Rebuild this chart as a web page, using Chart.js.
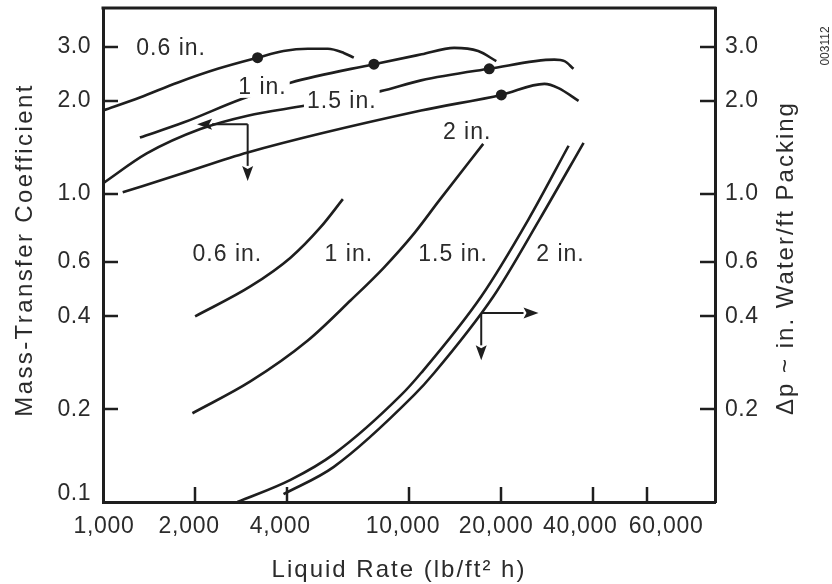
<!DOCTYPE html>
<html>
<head>
<meta charset="utf-8">
<script src="https://cdn.jsdelivr.net/npm/chart.js@4.4.1/dist/chart.umd.min.js"></script>
<style>
html,body{margin:0;padding:0;background:#ffffff;}
#wrap{width:832px;height:584px;position:relative;}
canvas{display:block;}
</style>
</head>
<body>
<div id="wrap"><canvas id="c" width="832" height="584"></canvas></div>
<script>
// ---------- tick values and labels ----------
const xTickValues = [1000, 2000, 4000, 10000, 20000, 40000, 60000];
const xTickLabels = ['1,000', '2,000', '4,000', '10,000', '20,000', '40,000', '60,000'];
const leftTickValues = [0.1, 0.2, 0.4, 0.6, 1.0, 2.0, 3.0];
const leftTickLabels = ['0.1', '0.2', '0.4', '0.6', '1.0', '2.0', '3.0'];
const rightTickValues = [0.2, 0.4, 0.6, 1.0, 2.0, 3.0];
const rightTickLabels = ['0.2', '0.4', '0.6', '1.0', '2.0', '3.0'];

// ---------- mass-transfer coefficient curves (left axis) ----------
const kRate06 = [1000, 1320, 1750, 2370, 3200, 3890, 4670, 5430, 6120, 6600];
const kCoef06 = [1.86, 2.05, 2.29, 2.54, 2.76, 2.90, 2.95, 2.95, 2.86, 2.76];
const kRate10 = [1320, 1830, 2810, 4100, 7680, 11000, 14050, 16830, 19290];
const kCoef10 = [1.52, 1.70, 2.02, 2.29, 2.63, 2.83, 2.97, 2.90, 2.69];
const kRate15 = [1000, 1390, 2080, 2970, 4590, 8090, 10950, 18290, 29870, 32220, 34480];
const kCoef15 = [1.08, 1.35, 1.62, 1.79, 1.93, 2.15, 2.33, 2.54, 2.72, 2.69, 2.54];
const kRate20 = [1160, 1800, 2970, 10950, 20030, 27710, 30800, 35820];
const kCoef20 = [1.01, 1.16, 1.36, 1.86, 2.09, 2.27, 2.20, 2.00];
// marked points on the coefficient curves
const dotRate = [3200, 7680, 18290, 20030];
const dotCoef = [2.76, 2.63, 2.54, 2.09];

// ---------- pressure-drop curves (right axis) ----------
const pRate06 = [2000, 3030, 4100, 5150, 6080];
const pDrop06 = [0.40, 0.50, 0.62, 0.78, 0.96];
const pRate10 = [1960, 3030, 4670, 6450, 8280, 10380, 12540, 17480];
const pDrop10 = [0.194, 0.246, 0.334, 0.451, 0.576, 0.742, 0.949, 1.45];
const pRate15 = [2750, 4100, 5680, 9415, 10950, 17220, 24550, 33230];
const pDrop15 = [0.100, 0.118, 0.143, 0.222, 0.262, 0.464, 0.824, 1.43];
const pRate20 = [3890, 5680, 10380, 12080, 18860, 26690, 37200];
const pDrop20 = [0.106, 0.130, 0.222, 0.262, 0.464, 0.824, 1.462];

// ---------- annotations (anchored in data units) ----------
const curveLabels = [
  {text: '0.6 in.', x: 1670, y: 2.97, axis: 'y', knock: false},
  {text: '1 in.', x: 3320, y: 2.22, axis: 'y', knock: true},
  {text: '1.5 in.', x: 6030, y: 2.00, axis: 'y', knock: true},
  {text: '2 in.', x: 15490, y: 1.59, axis: 'y', knock: false},
  {text: '0.6 in.', x: 2550, y: 0.64, axis: 'y2', knock: false},
  {text: '1 in.', x: 6360, y: 0.64, axis: 'y2', knock: false},
  {text: '1.5 in.', x: 13940, y: 0.64, axis: 'y2', knock: false},
  {text: '2 in.', x: 31260, y: 0.64, axis: 'y2', knock: false}
];
const axisArrows = [
  {axis: 'y', from: [2970, 1.68], to: [[2030, 1.68], [2970, 1.10]]},
  {axis: 'y2', from: [17220, 0.41], to: [[26500, 0.41], [17220, 0.288]]}
];

const INK = '#1e1e1e';
const TEXT = '#2b2b2b';
const FAMILY = '"Liberation Sans", Arial, Helvetica, sans-serif';

function pts(xs, ys) { return xs.map((x, i) => ({x: x, y: ys[i]})); }

// log scale with letter-spaced labels, per-label nudges and upward-reading titles
class SpacedLogScale extends Chart.LogarithmicScale {
  drawTitle() {
    const t = this.options.title;
    if (!t || !t.display) return;
    const ctx = this.ctx;
    const area = this.chart.chartArea;
    const f = t.font || {};
    ctx.save();
    ctx.font = (f.weight ? f.weight + ' ' : '') + (f.size || 24) + 'px ' + (f.family || FAMILY);
    ctx.fillStyle = t.color;
    ctx.letterSpacing = this.options.titleLetterSpacing || '0px';
    ctx.textAlign = 'center';
    ctx.textBaseline = 'alphabetic';
    const shift = this.options.titleShift || 0;
    const base = this.options.titleBaseline;
    if (this.isHorizontal()) {
      ctx.fillText(t.text, (area.left + area.right) / 2 + shift, base);
    } else {
      ctx.translate(base, (area.top + area.bottom) / 2 + shift);
      ctx.rotate(-Math.PI / 2);
      ctx.fillText(t.text, 0, 0);
    }
    ctx.restore();
  }
  _computeLabelItems(chartArea) {
    const items = super._computeLabelItems(chartArea);
    const shifts = this.options.labelShifts;
    if (shifts) {
      items.forEach((it, i) => {
        const s = shifts[i] || 0;
        if (!s || !it.options || !it.options.translation) return;
        const tr = it.options.translation;
        it.options.translation = this.isHorizontal() ? [tr[0] + s, tr[1]] : [tr[0], tr[1] + s];
      });
    }
    return items;
  }
  drawLabels(chartArea) {
    const ctx = this.ctx;
    ctx.save();
    ctx.letterSpacing = this.options.labelLetterSpacing || '0px';
    super.drawLabels(chartArea);
    ctx.restore();
  }
}
SpacedLogScale.id = 'spacedLog';
SpacedLogScale.defaults = Chart.LogarithmicScale.defaults;
Chart.register(SpacedLogScale);

const decorPlugin = {
  id: 'decor',
  afterDatasetsDraw(chart) {
    const ctx = chart.ctx;
    const xs = chart.scales.x;
    const area = chart.chartArea;
    ctx.save();
    // top frame line
    ctx.strokeStyle = INK;
    ctx.lineWidth = 3;
    ctx.beginPath();
    ctx.moveTo(area.left - 1.5, area.top);
    ctx.lineTo(area.right + 1.5, area.top);
    ctx.stroke();

    // inward tick marks
    ctx.lineWidth = 2.5;
    const tl = 15;
    xTickValues.slice(1).forEach(v => {
      const px = Math.round(xs.getPixelForValue(v));
      ctx.beginPath(); ctx.moveTo(px, area.bottom); ctx.lineTo(px, area.bottom - tl); ctx.stroke();
    });
    leftTickValues.slice(1).forEach(v => {
      const py = Math.round(chart.scales.y.getPixelForValue(v));
      ctx.beginPath(); ctx.moveTo(area.left, py); ctx.lineTo(area.left + tl, py); ctx.stroke();
    });
    rightTickValues.forEach(v => {
      const py = Math.round(chart.scales.y2.getPixelForValue(v));
      ctx.beginPath(); ctx.moveTo(area.right, py); ctx.lineTo(area.right - tl, py); ctx.stroke();
    });

    // curve labels
    ctx.font = '23px ' + FAMILY;
    ctx.letterSpacing = '1px';
    ctx.textAlign = 'center';
    ctx.textBaseline = 'middle';
    curveLabels.forEach(l => {
      const px = xs.getPixelForValue(l.x);
      const py = chart.scales[l.axis].getPixelForValue(l.y);
      if (l.knock) {
        const w = ctx.measureText(l.text).width + 6;
        ctx.fillStyle = '#ffffff';
        ctx.fillRect(px - w / 2, py - 11, w, 22);
      }
      ctx.fillStyle = TEXT;
      ctx.fillText(l.text, px, py + 1);
    });
    ctx.letterSpacing = '0px';

    // direction arrows
    ctx.strokeStyle = INK;
    ctx.fillStyle = INK;
    ctx.lineWidth = 2;
    axisArrows.forEach(a => {
      const ys = chart.scales[a.axis];
      const ox = xs.getPixelForValue(a.from[0]);
      const oy = ys.getPixelForValue(a.from[1]);
      a.to.forEach(t => {
        const tx = xs.getPixelForValue(t[0]);
        const ty = ys.getPixelForValue(t[1]);
        const ang = Math.atan2(ty - oy, tx - ox);
        const hl = 15, hw = 5.5;
        const bx = tx - hl * Math.cos(ang), by = ty - hl * Math.sin(ang);
        ctx.beginPath(); ctx.moveTo(ox, oy); ctx.lineTo(bx, by); ctx.stroke();
        ctx.beginPath();
        ctx.moveTo(tx, ty);
        ctx.lineTo(bx + hw * Math.sin(ang), by - hw * Math.cos(ang));
        ctx.lineTo(bx + 3 * Math.cos(ang), by + 3 * Math.sin(ang));
        ctx.lineTo(bx - hw * Math.sin(ang), by + hw * Math.cos(ang));
        ctx.closePath();
        ctx.fill();
      });
    });

    // figure code at top right
    ctx.font = '12px ' + FAMILY;
    ctx.fillStyle = '#333333';
    ctx.textAlign = 'center';
    ctx.textBaseline = 'middle';
    ctx.translate(826, 46);
    ctx.rotate(-Math.PI / 2);
    ctx.fillText('003112', 0, 0);
    ctx.restore();
  }
};

function curve(xs, ys, axis) {
  return {
    data: pts(xs, ys), yAxisID: axis,
    borderColor: INK, borderWidth: 2.6, fill: false,
    pointRadius: 0, pointHoverRadius: 0,
    cubicInterpolationMode: 'monotone'
  };
}

const datasets = [
  curve(kRate06, kCoef06, 'y'),
  curve(kRate10, kCoef10, 'y'),
  curve(kRate15, kCoef15, 'y'),
  curve(kRate20, kCoef20, 'y'),
  curve(pRate06, pDrop06, 'y2'),
  curve(pRate10, pDrop10, 'y2'),
  curve(pRate15, pDrop15, 'y2'),
  curve(pRate20, pDrop20, 'y2'),
  {
    data: pts(dotRate, dotCoef), yAxisID: 'y', showLine: false,
    pointRadius: 5.5, pointBackgroundColor: INK, pointBorderColor: INK, pointBorderWidth: 0
  }
];

const tickFont = {family: FAMILY, size: 23};
const titleFont = {family: FAMILY, size: 24};
const axisBorder = {display: true, color: INK, width: 3};
const noGrid = {display: true, drawOnChartArea: false, drawTicks: false, color: 'rgba(0,0,0,0)'};

function fixVertical(width) {
  return s => { s.width = width; s.paddingTop = 0; s.paddingBottom = 0; };
}

new Chart(document.getElementById('c'), {
  type: 'line',
  data: {datasets: datasets},
  options: {
    responsive: false,
    animation: false,
    devicePixelRatio: 1,
    events: [],
    layout: {padding: {top: 8, left: 0, right: 0, bottom: 0}},
    plugins: {legend: {display: false}, tooltip: {enabled: false}},
    scales: {
      x: {
        type: 'spacedLog', position: 'bottom', min: 1000, max: 100000,
        border: axisBorder, grid: noGrid,
        afterBuildTicks: s => { s.ticks = xTickValues.map(v => ({value: v})); },
        afterFit: s => { s.height = 82; s.paddingLeft = 0; s.paddingRight = 0; },
        ticks: {
          autoSkip: false, maxRotation: 0, minRotation: 0, padding: 11,
          font: tickFont, color: TEXT,
          callback: (v, i) => xTickLabels[i]
        },
        labelShifts: [1, -6, -7, -6, -5, -13, 19],
        labelLetterSpacing: '0.7px',
        title: {display: true, text: 'Liquid Rate (lb/ft² h)', font: titleFont, color: TEXT},
        titleLetterSpacing: '2px', titleBaseline: 577, titleShift: -10
      },
      y: {
        type: 'spacedLog', position: 'left', min: 0.1, max: 4.0,
        border: axisBorder, grid: noGrid,
        afterBuildTicks: s => { s.ticks = leftTickValues.map(v => ({value: v})); },
        afterFit: fixVertical(103),
        ticks: {
          autoSkip: false, padding: 12, font: tickFont, color: TEXT,
          callback: (v, i) => leftTickLabels[i]
        },
        labelShifts: [-8, 0, 0, 0, 0, 0, 0],
        labelLetterSpacing: '0.5px',
        title: {display: true, text: 'Mass-Transfer Coefficient', font: titleFont, color: TEXT},
        titleLetterSpacing: '2.4px', titleBaseline: 32, titleShift: -5
      },
      y2: {
        type: 'spacedLog', position: 'right', min: 0.1, max: 4.0,
        border: axisBorder, grid: noGrid,
        afterBuildTicks: s => { s.ticks = rightTickValues.map(v => ({value: v})); },
        afterFit: fixVertical(117),
        ticks: {
          autoSkip: false, padding: 10, font: tickFont, color: TEXT,
          callback: (v, i) => rightTickLabels[i]
        },
        labelLetterSpacing: '0.5px',
        title: {display: true, text: 'Δp ~ in. Water/ft Packing', font: titleFont, color: TEXT},
        titleLetterSpacing: '2px', titleBaseline: 793, titleShift: 3
      }
    }
  },
  plugins: [decorPlugin]
});
</script>
</body>
</html>
